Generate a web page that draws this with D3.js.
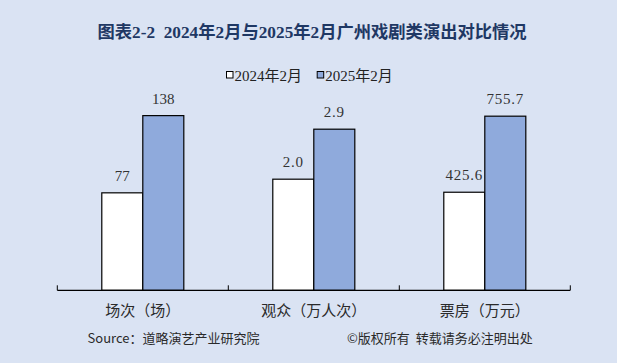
<!DOCTYPE html>
<html><head><meta charset="utf-8">
<script src="https://cdn.jsdelivr.net/npm/d3@7"></script>
<style>html,body{margin:0;padding:0;background:#DAE3F3;}svg{display:block;}text{white-space:pre;}</style>
</head><body>
<script>
const categories = ["场次（场）", "观众（万人次）", "票房（万元）"];
const series = ["2024年2月", "2025年2月"];
const values2024 = [77, 2.0, 425.6];
const values2025 = [138, 2.9, 755.7];
const labels2024 = ["77", "2.0", "425.6"];
const labels2025 = ["138", "2.9", "755.7"];
const scaleMax = [158, 3.6, 868];
const colors = ["#FFFFFF", "#8FAADC"];

const W = 617, H = 363;
const svg = d3.select("body").append("svg").attr("width", W).attr("height", H);
svg.append("rect").attr("width", W).attr("height", H).attr("fill", "#DAE3F3");

const baseY = 290.3, topY = 90.3;
const x0 = d3.scaleBand().domain(categories).range([57.3, 570.3]).padding(0);
const x1 = d3.scaleBand().domain(series).range([0, x0.bandwidth()]).paddingInner(0).paddingOuter(1.085);
const yScales = categories.map((c, i) => d3.scaleLinear().domain([0, scaleMax[i]]).range([baseY, topY]));

// title
svg.append("text").attr("x", 312).attr("y", 38).attr("text-anchor", "middle")
  .attr("font-family", "'Liberation Serif','Noto Sans CJK SC',serif").attr("font-weight", "bold")
  .attr("font-size", 17.3).attr("fill", "#1F3864")
  .text("图表2-2  2024年2月与2025年2月广州戏剧类演出对比情况");

// legend
const legend = svg.append("g");
const legX = [226, 316.7];
series.forEach((s, i) => {
  legend.append("rect").attr("x", legX[i] + 0.5).attr("y", 71.5).attr("width", 6.5).attr("height", 6.5)
    .attr("fill", colors[i]).attr("stroke", "#000").attr("stroke-width", 1);
  legend.append("text").attr("x", legX[i] + 8.5).attr("y", 81)
    .attr("font-family", "'Liberation Serif','Noto Sans CJK SC',serif").attr("font-size", 15).attr("fill", "#222")
    .text(s);
});

// bars
const rows = categories.map((c, i) => ({ c, i, vals: [values2024[i], values2025[i]], labs: [labels2024[i], labels2025[i]] }));
const g = svg.append("g");
rows.forEach(r => {
  const y = yScales[r.i];
  series.forEach((s, j) => {
    const bx = x0(r.c) + x1(s);
    g.append("rect").attr("x", bx).attr("y", y(r.vals[j])).attr("width", x1.bandwidth())
      .attr("height", baseY - y(r.vals[j])).attr("fill", colors[j]).attr("stroke", "#000").attr("stroke-width", 1.2);
    g.append("text").attr("x", bx + x1.bandwidth() / 2).attr("y", y(r.vals[j]) - 12)
      .attr("text-anchor", "middle").attr("font-family", "'Liberation Serif',serif").attr("font-size", 15)
      .attr("letter-spacing", r.labs[j].includes(".") ? 0.8 : 0)
      .attr("fill", "#333").text(r.labs[j]);
  });
});

// axis
const axis = svg.append("g");
axis.append("line").attr("x1", x0.range()[0]).attr("x2", x0.range()[1]).attr("y1", baseY).attr("y2", baseY)
  .attr("stroke", "#000").attr("stroke-width", 1.2);
const tickXs = categories.map(c => x0(c)).concat([x0.range()[1]]);
tickXs.forEach(tx => {
  axis.append("line").attr("x1", tx).attr("x2", tx).attr("y1", baseY).attr("y2", baseY - 5)
    .attr("stroke", "#000").attr("stroke-width", 1);
});
categories.forEach(c => {
  axis.append("text").attr("x", x0(c) + x0.bandwidth() / 2).attr("y", 316)
    .attr("text-anchor", "middle").attr("font-family", "'Noto Sans CJK SC',sans-serif").attr("font-size", 15)
    .attr("fill", "#2a2a2a").text(c);
});

// footer
svg.append("text").attr("x", 87.5).attr("y", 343).attr("font-family", "'Noto Sans CJK SC',sans-serif")
  .attr("font-size", 13).attr("fill", "#2a2a2a").text("Source：道略演艺产业研究院");
svg.append("text").attr("x", 347).attr("y", 343).attr("font-family", "'Noto Sans CJK SC',sans-serif")
  .attr("font-size", 13).attr("fill", "#2a2a2a").text("©版权所有  转载请务必注明出处");
</script>
</body></html>
